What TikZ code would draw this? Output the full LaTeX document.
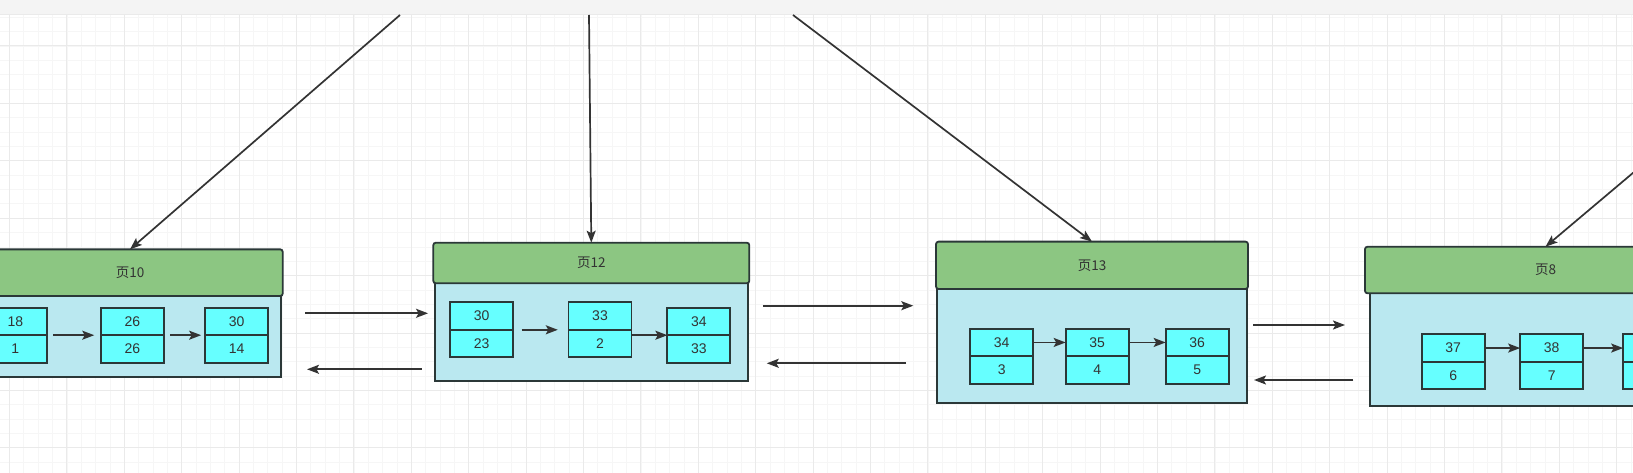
\documentclass[tikz,border=0pt]{standalone}
\usepackage{fontspec}
\setmainfont{Liberation Sans}
\newfontfamily\cjk{Noto Sans CJK SC}
\usetikzlibrary{arrows.meta}
\definecolor{hdrgreen}{HTML}{8CC682}
\definecolor{bodyblue}{HTML}{BAE8F0}
\definecolor{cellcyan}{HTML}{66FFFF}
\definecolor{edge}{HTML}{2B3838}
\definecolor{txt}{HTML}{333333}
\definecolor{arrowc}{HTML}{333333}
\definecolor{majorgrid}{HTML}{EAEAEA}
\definecolor{minorgrid}{HTML}{F6F6F6}
\definecolor{bandgray}{HTML}{F4F4F4}
\tikzset{
  hdr/.style={draw=edge, fill=hdrgreen, line width=1.8pt, rounded corners=2.5pt,
    inner sep=0pt, outer sep=0pt, text=txt, font=\cjk\fontsize{13.5pt}{15pt}\selectfont},
  pagebody/.style={draw=edge, fill=bodyblue, line width=1.8pt, inner sep=0pt, outer sep=0pt},
  cell/.style={draw=edge, fill=cellcyan, line width=1.8pt, inner sep=0pt, outer sep=0pt,
    minimum width=63pt, minimum height=27.5pt, text=txt, font=\fontsize{14pt}{16pt}\selectfont},
  arr/.style={draw=arrowc, line width=1.7pt, -{Stealth[length=12pt,width=9pt,inset=2.5pt]}},
  gmin/.style={draw=minorgrid, line width=0.8pt},
  gmaj/.style={draw=majorgrid, line width=1pt}
}
\newcommand\recbox[5]{%
  \node[cell, anchor=north] (#1-t) at (#2,#3) {#4};
  \node[cell, anchor=north] (#1-b) at (#1-t.south) {#5};}
\begin{document}
\begin{tikzpicture}[x=1pt,y=-1pt]
\useasboundingbox (0,0) rectangle (1633,473);
\clip (0,0) rectangle (1633,473);
\fill[white] (0,0) rectangle (1633,473);
% grid
\foreach \gx in {-4.85,9.5,...,1640} \draw[gmin] (\gx,0) -- (\gx,473);
\foreach \gy in {2.95,17.3,...,480} \draw[gmin] (0,\gy) -- (1633,\gy);
\foreach \gx in {9.5,66.9,...,1640} \draw[gmaj] (\gx,0) -- (\gx,473);
\foreach \gy in {-11.4,46,...,480} \draw[gmaj] (0,\gy) -- (1633,\gy);
% top band
\fill[bandgray] (0,0) rectangle (1633,15);
\draw[majorgrid, line width=1pt] (0,15) -- (1633,15);

% page bodies
\node[pagebody, minimum width=301pt, minimum height=80.7pt] (b10) at (130.5,336.35) {};
\node[pagebody, minimum width=313.3pt, minimum height=97.7pt] (b12) at (591.7,332.2) {};
\node[pagebody, minimum width=310pt, minimum height=113.7pt] (b13) at (1091.7,345.9) {};
\node[pagebody, minimum width=351pt, minimum height=112.7pt] (b8) at (1545.5,349.7) {};
% page headers
\node[hdr, minimum width=305.4pt, minimum height=46.7pt] (h10) at (130,272.7) {页10};
\node[hdr, minimum width=316pt, minimum height=40.6pt] (h12) at (591.3,263) {页12};
\node[hdr, minimum width=312pt, minimum height=47.3pt] (h13) at (1092,265.3) {页13};
\node[hdr, minimum width=361pt, minimum height=46.6pt] (h8) at (1545.5,270) {页8};

% records
\recbox{r10a}{15.35}{307.7}{18}{1}
\recbox{r10b}{132.35}{307.7}{26}{26}
\recbox{r10c}{236.65}{307.7}{30}{14}
\recbox{r12a}{481.65}{302.3}{30}{23}
\recbox{r12b}{600}{302.3}{33}{2}
\recbox{r12c}{698.85}{307.7}{34}{33}
\recbox{r13a}{1001.7}{328.7}{34}{3}
\recbox{r13b}{1097.15}{328.7}{35}{4}
\recbox{r13c}{1197.15}{328.7}{36}{5}
\recbox{r8a}{1453.15}{334.3}{37}{6}
\recbox{r8b}{1551.65}{334.3}{38}{7}
\recbox{r8c}{1654.65}{334.3}{}{}

% arrows inside pages
\draw[arr, shorten <=6.6pt, shorten >=6.6pt] (r10a-t.south east) -- (r10b-t.south west);
\draw[arr, shorten <=6.6pt, shorten >=4pt] (r10b-t.south east) -- (r10c-t.south west);
\draw[arr, shorten <=8.4pt, shorten >=10.7pt] (r12a-t.south east) -- (r12b-t.south west);
\draw[arr] (r12b-b.east |- r12c-t.south west) -- (r12c-t.south west);
\draw[arr] (r13a-t.east) -- (r13b-t.west);
\draw[arr] (r13b-t.east) -- (r13c-t.west);
\draw[arr] (r8a-t.east) -- (r8b-t.west);
\draw[arr] (r8b-t.east) -- (r8c-t.west);

% arrows between pages
\draw[arr, shorten <=24pt, shorten >=7pt] (b10.east |- 0,313.3) -- (b12.west |- 0,313.3);
\draw[arr, shorten <=13.3pt, shorten >=26pt] (b12.west |- 0,369.3) -- (b10.east |- 0,369.3);
\draw[arr, shorten <=14.4pt, shorten >=23.4pt] (b12.east |- 0,305.7) -- (b13.west |- 0,305.7);
\draw[arr, shorten <=30.7pt, shorten >=18.4pt] (b13.west |- 0,363.3) -- (b12.east |- 0,363.3);
\draw[arr, shorten <=6.6pt, shorten >=25pt] (b13.east |- 0,325) -- (b8.west |- 0,325);
\draw[arr, shorten <=16.7pt, shorten >=7.3pt] (b8.west |- 0,380) -- (b13.east |- 0,380);

% arrows from the parent level
\coordinate (s10) at (400,15);
\coordinate (s12) at (589,15);
\coordinate (s13) at (793,15);
\coordinate (s8) at (1720,99.5);
\draw[arr] (s10) -- (h10.north);
\draw[arr] (s12) -- (h12.north);
\draw[arr] (s13) -- (h13.north);
\draw[arr] (s8) -- (h8.north);
\end{tikzpicture}
\end{document}
